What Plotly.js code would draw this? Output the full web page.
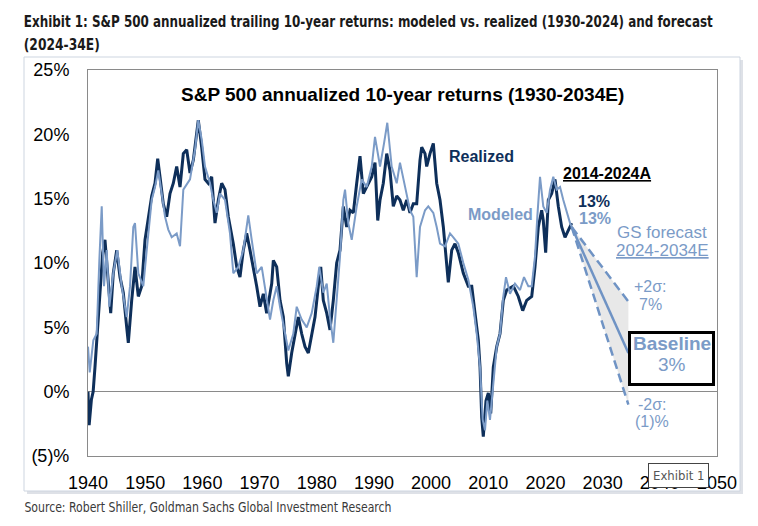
<!DOCTYPE html>
<html>
<head>
<meta charset="utf-8">
<script src="https://cdn.plot.ly/plotly-3.0.1.min.js"></script>
<style>
html,body{margin:0;padding:0;background:#fff;}
#chart{width:758px;height:526px;}
</style>
</head>
<body>
<div id="chart"></div>
<script>
// ---- data ----
const realizedYears = [1940.0,1940.2,1940.6,1940.9,1941.22,1941.8,1942.22,1942.57,1942.97,1943.3,1943.55,1943.97,1944.42,1945.02,1945.6,1946.17,1946.77,1947.05,1947.64,1948.22,1948.8,1949.39,1949.97,1950.55,1951.14,1951.72,1952.19,1952.59,1953.17,1953.76,1954.34,1954.92,1955.51,1956.09,1956.67,1957.26,1957.84,1958.42,1959.29,1959.88,1960.46,1961.04,1961.63,1962.21,1962.79,1963.38,1963.96,1964.54,1965.41,1966.01,1966.58,1967.16,1967.75,1968.33,1968.91,1969.5,1970.08,1970.66,1971.25,1972.13,1972.41,1973.0,1973.58,1974.16,1974.75,1975.03,1975.62,1976.2,1976.78,1977.37,1977.95,1978.53,1979.12,1979.7,1980.28,1980.7,1981.15,1981.75,1982.32,1982.9,1983.49,1984.07,1984.65,1985.24,1985.82,1986.4,1986.99,1987.57,1988.15,1988.74,1989.62,1990.19,1990.67,1991.07,1991.64,1992.24,1992.81,1993.39,1993.99,1994.56,1995.14,1995.74,1996.31,1996.89,1997.48,1998.06,1998.36,1998.94,1999.23,1999.81,2000.39,2000.98,2001.56,2002.14,2002.73,2003.01,2003.61,2004.18,2004.76,2005.64,2006.51,2007.11,2007.68,2008.26,2008.56,2008.85,2009.13,2009.6,2010.01,2010.43,2010.88,2011.48,2012.05,2012.63,2013.22,2014.38,2015.25,2016.02,2016.72,2017.6,2018.17,2018.75,2019.34,2019.62,2020.04,2020.5,2021.09,2021.67,2022.25,2022.84,2023.42,2024.0,2024.59];
const realizedVals = [0.0,-2.6,-0.6,0.0,1.9,5.8,8.2,10.8,11.8,10.0,8.2,6.1,9.2,11.0,8.9,7.7,5.0,3.8,7.1,9.7,7.4,8.2,11.8,13.6,15.2,16.2,18.1,16.7,14.6,13.6,15.4,16.2,17.5,15.9,18.5,18.8,17.0,18.0,21.1,19.0,16.5,16.2,16.7,13.1,14.9,16.2,15.7,13.6,11.5,9.7,8.9,11.0,12.3,11.0,9.7,8.2,6.6,7.6,6.1,8.4,10.2,9.7,7.1,5.8,2.2,1.2,3.0,4.5,5.8,4.5,3.5,3.0,4.5,5.8,8.2,9.7,7.1,6.1,4.8,7.1,10.0,11.0,14.4,12.8,14.1,13.9,16.2,18.3,15.4,15.9,16.7,17.8,13.3,14.9,16.2,18.5,17.2,14.4,15.2,14.9,14.1,14.9,13.9,14.6,14.6,18.0,19.0,18.5,17.5,18.5,19.3,16.2,14.9,12.8,10.2,8.5,11.0,11.5,10.8,9.2,8.2,8.2,6.1,4.0,1.9,-2.0,-3.5,-0.7,-0.1,-1.7,1.9,3.5,4.5,7.1,7.9,8.2,7.4,6.3,7.1,7.4,9.7,12.8,14.1,13.3,10.8,14.9,15.4,16.5,14.4,12.8,12.0,12.6,13.1];

const modeledYears = [1940.0,1940.3,1940.93,1941.52,1941.98,1942.4,1942.8,1943.27,1943.73,1944.42,1945.12,1945.89,1946.77,1947.35,1947.92,1948.22,1948.8,1949.67,1950.27,1951.14,1951.72,1952.29,1952.89,1953.47,1954.04,1954.64,1955.51,1956.09,1956.67,1957.84,1958.71,1959.29,1959.88,1960.46,1961.34,1961.91,1962.51,1963.08,1963.96,1964.83,1965.41,1966.29,1967.16,1968.03,1968.63,1969.5,1970.38,1971.25,1971.83,1972.41,1973.0,1973.58,1974.45,1975.03,1975.9,1976.5,1977.37,1978.25,1979.12,1980.0,1980.45,1981.15,1981.75,1982.32,1982.9,1983.49,1984.07,1984.65,1984.95,1985.52,1986.12,1986.99,1987.87,1988.74,1989.62,1990.19,1991.07,1991.77,1992.34,1993.11,1993.99,1994.56,1995.44,1996.31,1996.89,1997.48,1998.06,1998.94,1999.51,2000.39,2000.98,2001.56,2002.43,2003.31,2003.89,2004.76,2005.64,2006.51,2007.38,2007.98,2008.56,2009.03,2009.43,2009.83,2010.3,2010.88,2011.48,2012.05,2012.63,2013.1,2013.8,2014.67,2015.55,2016.25,2017.0,2017.6,2018.17,2018.58,2019.05,2019.62,2020.22,2020.8,2021.37,2021.97,2022.55,2023.12,2023.72,2024.3,2024.59];
const modeledVals = [3.5,1.5,4.0,4.5,10.2,14.4,8.2,11.0,6.6,9.2,11.0,8.2,5.8,8.2,12.8,13.1,9.2,8.2,11.0,14.9,15.9,17.2,15.4,13.6,12.6,12.0,12.3,11.3,15.7,16.5,18.8,21.1,19.6,17.5,16.2,14.9,13.9,15.4,14.9,12.3,9.2,9.7,11.0,13.7,11.8,9.2,9.7,7.1,5.6,7.1,8.2,6.6,4.5,3.2,4.5,6.6,5.6,5.0,6.1,8.2,9.7,7.7,8.4,5.8,3.8,7.1,10.5,14.9,15.7,13.1,11.8,14.4,16.5,15.9,17.5,19.8,17.5,19.3,20.9,17.5,16.2,17.8,15.9,14.1,13.6,8.9,12.8,14.1,14.4,13.9,12.8,11.5,11.3,12.3,12.0,11.5,10.0,8.7,6.6,4.5,1.9,-2.2,-3.0,-0.7,-2.2,0.6,3.5,4.5,7.4,8.9,7.6,8.4,7.9,8.9,8.2,8.2,10.5,13.6,16.7,14.4,13.9,15.7,16.7,15.7,15.9,14.9,13.9,13.1,12.8];

const forecastYears = [2024.59, 2034.5];
const baselineVals = [12.8, 3.0];
const upperVals = [12.8, 7.0];
const lowerVals = [12.8, -1.0];

const xTickVals = [1940,1950,1960,1970,1980,1990,2000,2010,2020,2030,2040,2050];
const xTickText = ['1940','1950','1960','1970','1980','1990','2000','2010','2020','2030','2040','2050'];
const yTickVals = [-5,0,5,10,15,20,25];
const yTickText = ['(5)%','0%','5%','10%','15%','20%','25%'];

// ---- styling ----
const DARK = '#0E2F5A';
const LIGHT = '#7B9BC7';
const FC = '#6F93C4';
const ARIAL = 'Liberation Sans, Arial, sans-serif';
const NARROW = 'Liberation Sans Narrow, DejaVu Sans Condensed, sans-serif';

// plot area in pixels: x 88..717, y 70..456
const L = 88, R = 717, T = 70, B = 456;
const px = x => (x - L) / (R - L);
const py = y => (B - y) / (B - T);

const traces = [
  {x:[forecastYears[0], forecastYears[1], forecastYears[1], forecastYears[0]],
   y:[upperVals[0], upperVals[1], lowerVals[1], lowerVals[0]],
   fill:'toself', fillcolor:'#E8E8E8', line:{width:0}, mode:'lines', hoverinfo:'skip'},
  {x:realizedYears, y:realizedVals, mode:'lines', line:{color:DARK, width:3}},
  {x:modeledYears, y:modeledVals, mode:'lines', line:{color:LIGHT, width:2}},
  {x:forecastYears, y:baselineVals, mode:'lines', line:{color:FC, width:2.5}},
  {x:forecastYears, y:upperVals, mode:'lines', line:{color:FC, width:2.5, dash:'9px,5px'}},
  {x:forecastYears, y:lowerVals, mode:'lines', line:{color:FC, width:2.5, dash:'9px,5px'}}
];

function ann(text, x, y, size, color, opts) {
  return Object.assign({text:text, x:px(x), y:py(y), xref:'paper', yref:'paper',
    showarrow:false, xanchor:'center', yanchor:'middle',
    font:{family:ARIAL, size:size, color:color}}, opts || {});
}

// condensed texts: placed by their centres, then squeezed to reference widths
const annotations = [
  ann('<b>Exhibit 1: S&P 500 annualized trailing 10-year returns: modeled vs. realized (1930-2024) and forecast</b>', 24 + 689/2, 22, 15, '#1a1a1a', {font:{family:NARROW, size:15, color:'#1a1a1a'}}),
  ann('<b>(2024-34E)</b>', 24 + 76/2, 45, 15, '#1a1a1a', {font:{family:NARROW, size:15, color:'#1a1a1a'}}),
  ann('Source: Robert Shiller, Goldman Sachs Global Investment Research', 24 + 367/2, 507, 14, '#3a3a3a', {font:{family:NARROW, size:14, color:'#3a3a3a'}}),
  ann('<b>S&P 500 annualized 10-year returns (1930-2034E)</b>', 403, 94, 19, '#000'),
  ann('<b>Realized</b>', 481, 156, 16, DARK),
  ann('<b>Modeled</b>', 500, 214, 16, LIGHT),
  ann('<b><u>2014-2024A</u></b>', 607, 173, 16, '#000'),
  ann('<b>13%</b>', 594, 201, 16, DARK),
  ann('<b>13%</b>', 595, 218, 16, LIGHT),
  ann('GS forecast', 662, 232, 17, LIGHT),
  ann('<u>2024-2034E</u>', 662, 250, 17, LIGHT),
  ann('+2σ:', 650, 286, 16, LIGHT),
  ann('7%', 650, 304, 16, LIGHT),
  ann('<b>Baseline</b>', 672, 343, 19, LIGHT),
  ann('3%', 672, 364, 19, LIGHT),
  ann('-2σ:', 652, 404, 16, LIGHT),
  ann('(1)%', 652, 421, 16, LIGHT),
  ann('Exhibit 1', 678, 475, 13, '#555', {bgcolor:'#ffffff', bordercolor:'#444', borderwidth:1, borderpad:4, font:{family:NARROW, size:13, color:'#555'}})
];

const shapes = [
  {type:'rect', xref:'paper', yref:'paper', x0:px(27), x1:px(743), y0:py(60), y1:py(494),
   line:{width:0}, fillcolor:'rgba(160,170,185,0.35)', layer:'below'},
  {type:'rect', xref:'paper', yref:'paper', x0:px(24), x1:px(740), y0:py(57), y1:py(491),
   line:{color:'#CDD5E0', width:1}, fillcolor:'#ffffff', layer:'below'},
  {type:'rect', xref:'paper', yref:'paper', x0:px(629.5), x1:px(713.5), y0:py(332.5), y1:py(384.5),
   line:{color:'#000', width:3}, fillcolor:'rgba(255,255,255,0)', layer:'above'}
];

const layout = {
  width:758, height:526,
  margin:{l:L, r:758-R, t:T, b:526-B, pad:0},
  paper_bgcolor:'rgba(0,0,0,0)', plot_bgcolor:'rgba(0,0,0,0)',
  showlegend:false, hovermode:false,
  xaxis:{range:[1940,2050], tickvals:xTickVals, ticktext:xTickText, showgrid:false, zeroline:false,
    showline:true, mirror:true, linecolor:'#8a8a8a', linewidth:1, ticks:'', ticklabelstandoff:10,
    tickfont:{family:ARIAL, size:18, color:'#000'}, fixedrange:true},
  yaxis:{range:[-5,25], tickvals:yTickVals, ticktext:yTickText, showgrid:false,
    zeroline:true, zerolinecolor:'#8a8a8a', zerolinewidth:1,
    showline:true, mirror:true, linecolor:'#8a8a8a', linewidth:1, ticks:'', ticklabelstandoff:14,
    tickfont:{family:ARIAL, size:18, color:'#000'}, fixedrange:true},
  shapes:shapes, annotations:annotations
};

Plotly.newPlot('chart', traces, layout, {displayModeBar:false, staticPlot:true}).then(() => {
  const fits = {'Exhibit 1: S&P': 689, '(2024-34E)': 76, 'Source: Robert': 367};
  document.querySelectorAll('.annotation-text').forEach(t => {
    const s = t.textContent;
    Object.keys(fits).forEach(k => {
      if (s.indexOf(k) === 0) {
        t.setAttribute('textLength', fits[k]);
        t.setAttribute('lengthAdjust', 'spacingAndGlyphs');
      }
    });
  });
});
</script>
</body>
</html>
